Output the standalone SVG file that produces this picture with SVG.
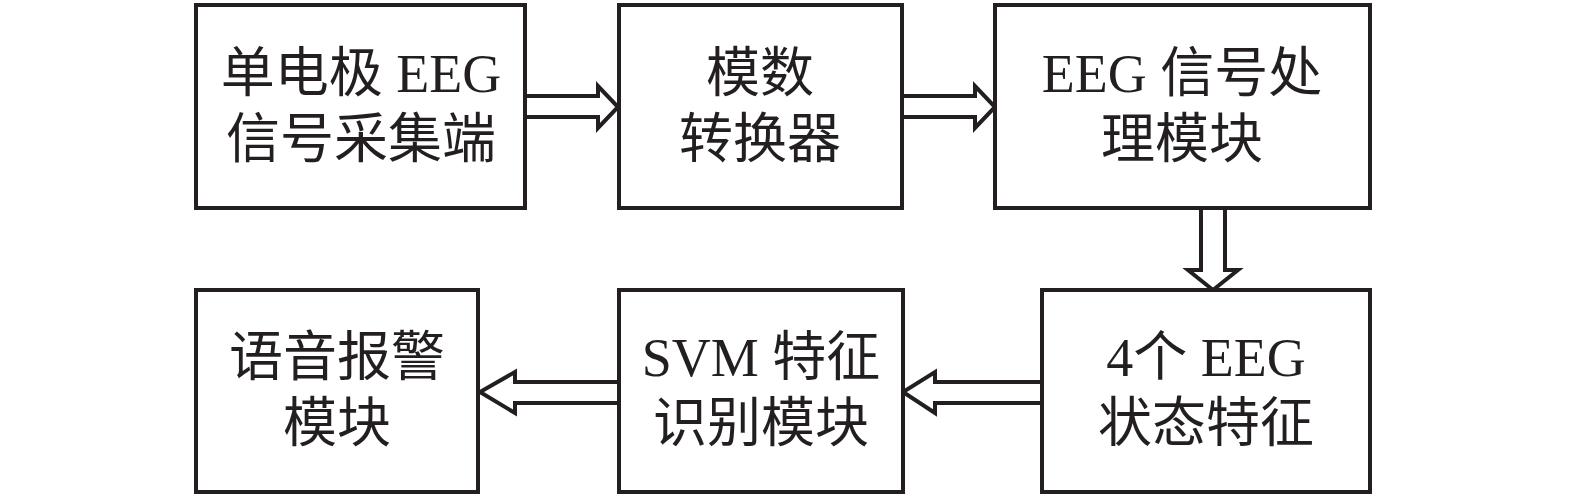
<svg xmlns="http://www.w3.org/2000/svg" width="1575" height="500" viewBox="0 0 1575 500">
<style>
.box{fill:#fff;stroke:#231f20;stroke-width:4}
.arr{fill:#fff;stroke:#231f20;stroke-width:4;stroke-linejoin:miter}
text{font-family:"Liberation Serif","Noto Sans CJK SC",serif;font-size:54px;fill:#231f20;text-anchor:middle}
</style>
<rect width="1575" height="500" fill="#fff"/>
<g id="connectors">
<polygon class="arr" points="525,96 598,96 598,86 618,107 598,128 598,117 525,117"/>
<polygon class="arr" points="902,96 975,96 975,86 995,107 975,128 975,117 902,117"/>
<polygon class="arr" points="1201,208 1225,208 1225,270 1238,270 1213,290 1188,270 1201,270"/>
<polygon class="arr" points="1042,382 935,382 935,372 903,392 935,413 935,403 1042,403"/>
<polygon class="arr" points="619,382 515,382 515,372 480,392 515,413 515,403 619,403"/>
</g>
<g id="n1"><rect class="box" x="196" y="5" width="329" height="203"/><text x="361" y="92">单电极 EEG</text><text x="361" y="158">信号采集端</text></g>
<g id="n2"><rect class="box" x="619" y="5" width="283" height="203"/><text x="760" y="92">模数</text><text x="760" y="158">转换器</text></g>
<g id="n3"><rect class="box" x="995" y="5" width="375" height="203"/><text x="1182" y="92">EEG 信号处</text><text x="1182" y="158">理模块</text></g>
<g id="n4"><rect class="box" x="196" y="290" width="282" height="202"/><text x="337" y="376">语音报警</text><text x="337" y="442">模块</text></g>
<g id="n5"><rect class="box" x="619" y="290" width="284" height="202"/><text x="761" y="376">SVM 特征</text><text x="761" y="442">识别模块</text></g>
<g id="n6"><rect class="box" x="1042" y="290" width="328" height="202"/><text x="1206" y="376">4个 EEG</text><text x="1206" y="442">状态特征</text></g>
</svg>
